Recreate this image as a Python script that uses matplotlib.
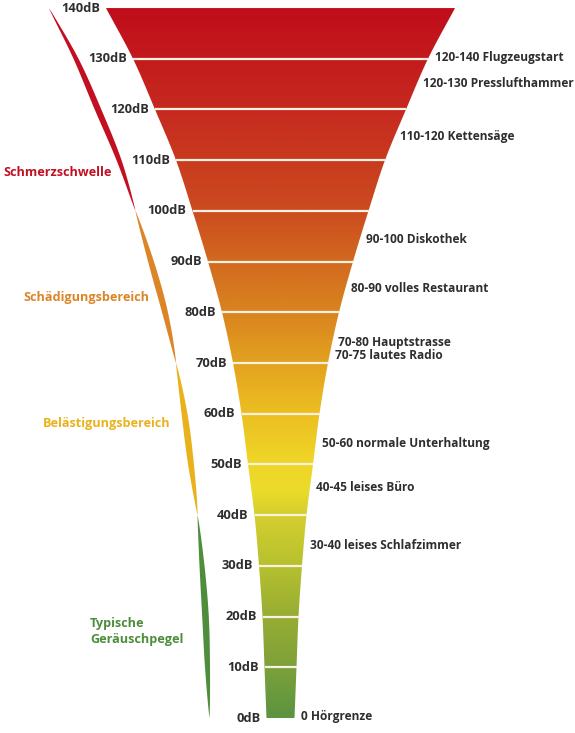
import matplotlib
matplotlib.use("Agg")
import matplotlib.pyplot as plt
import numpy as np
from matplotlib.colors import LinearSegmentedColormap
from matplotlib.patches import Polygon

plt.rcParams['font.family'] = ['Open Sans', 'DejaVu Sans']

# dB levels and funnel half width (px)
levels = [0, 10, 20, 30, 40, 50, 60, 70, 80, 90, 100, 110, 120, 130, 140]
half_w = [14, 16, 18, 21.5, 26, 32.5, 39, 47.5, 58.5, 72.5, 88, 104.5, 125.5, 147.5, 174.5]

# colour stops of the funnel gradient
grad_db = [0, 10, 20, 30, 40, 45, 50, 60, 70, 80, 90, 100, 120, 140]
grad_col = ['#5c9440', '#7ea13a', '#98ad33', '#b7c12f', '#d5cf2e', '#ecdb2a', '#efd627',
            '#ecbf22', '#e3a21f', '#da841f', '#d26a1f', '#cc4c1f', '#c62a1f', '#c00d1b']

# ranges on the left
zones = ['Schmerzschwelle', 'Schädigungsbereich', 'Belästigungsbereich', 'Typische\nGeräuschpegel']
zone_lo = [100, 70, 40, 0]
zone_hi = [140, 100, 70, 40]
zone_col = ['#c20f22', '#dc8526', '#e9b21d', '#4d8d3b']
zone_label_x = [3, 23, 43, 90]
zone_label_db = [107.6, 83.0, 58.0, 17.0]

# examples on the right
examples = ['120-140 Flugzeugstart', '120-130 Presslufthammer', '110-120 Kettensäge',
            '90-100 Diskothek', '80-90 volles Restaurant', '70-80 Hauptstrasse',
            '70-75 lautes Radio', '50-60 normale Unterhaltung', '40-45 leises Büro',
            '30-40 leises Schlafzimmer', '0 Hörgrenze']
example_db = [130.3, 125.2, 114.6, 94.3, 84.6, 74.1, 71.4, 54.2, 45.4, 34.1, 0.2]

W, H = 575, 733
cx = 280.5
px_db = 5.071
y0 = 718

fig = plt.figure(figsize=(W / 100, H / 100), dpi=100)
ax = fig.add_axes([0, 0, 1, 1])
ax.set_xlim(0, W)
ax.set_ylim(-(H - y0) / px_db, y0 / px_db)
ax.axis('off')

def hw(d):
    # Catmull-Rom through the read half widths, so the funnel edge is smooth
    d = np.atleast_1d(np.asarray(d, dtype=float))
    p = np.array(half_w, dtype=float)
    p = np.concatenate([[2 * p[0] - p[1]], p, [2 * p[-1] - p[-2]]])
    s = np.clip(d / 10.0, 0, len(levels) - 1 - 1e-9)
    i = np.floor(s).astype(int)
    u = s - i
    p0, p1, p2, p3 = p[i], p[i + 1], p[i + 2], p[i + 3]
    out = 0.5 * (2 * p1 + (-p0 + p2) * u + (2 * p0 - 5 * p1 + 4 * p2 - p3) * u ** 2
                 + (-p0 + 3 * p1 - 3 * p2 + p3) * u ** 3)
    return out if out.size > 1 else float(out[0])

dd = np.linspace(0, 140, 281)
left = np.column_stack([cx - hw(dd), dd])
right = np.column_stack([cx + hw(dd), dd])[::-1]
funnel = Polygon(np.vstack([left, right]), closed=True, facecolor='none', edgecolor='none')
ax.add_patch(funnel)

cmap = LinearSegmentedColormap.from_list(
    'db', [(d / 140, c) for d, c in zip(grad_db, grad_col)])
grad = np.linspace(0, 140, 500).reshape(-1, 1)
im = ax.imshow(grad, extent=[0, W, 0, 140], origin='lower', cmap=cmap,
               vmin=0, vmax=140, aspect='auto', interpolation='bilinear')
im.set_clip_path(funnel)

# white separators and dB labels
for d in levels:
    if 0 < d < 140:
        ax.plot([cx - hw(d), cx + hw(d)], [d, d], color='#fbf1e0', lw=1.6,
                solid_capstyle='butt')
    ax.text(cx - hw(d) - 6, d, f'{d}dB', ha='right', va='center',
            fontsize=9.3, fontweight='bold', color='#2e2e2e')

# crescent shaped ranges on the left
for lo, hi, c in zip(zone_lo, zone_hi, zone_col):
    t = np.linspace(lo, hi, 160)
    mid = cx - hw(t) - 57
    th = 3.3 * np.sin(np.pi * (t - lo) / (hi - lo)) ** 0.8
    pts = np.vstack([np.column_stack([mid - th, t]), np.column_stack([mid + th, t])[::-1]])
    ax.add_patch(Polygon(pts, closed=True, facecolor=c, edgecolor='none'))

for name, x, d, c in zip(zones, zone_label_x, zone_label_db, zone_col):
    ax.text(x, d, name, ha='left', va='center', fontsize=9.1, fontweight='bold',
            color=c, linespacing=1.3)

for name, d in zip(examples, example_db):
    ax.text(cx + hw(d) + 6, d, name, ha='left', va='center', fontsize=8.6,
            fontweight='bold', color='#2e2e2e')

fig.savefig('out.png', dpi=100)
